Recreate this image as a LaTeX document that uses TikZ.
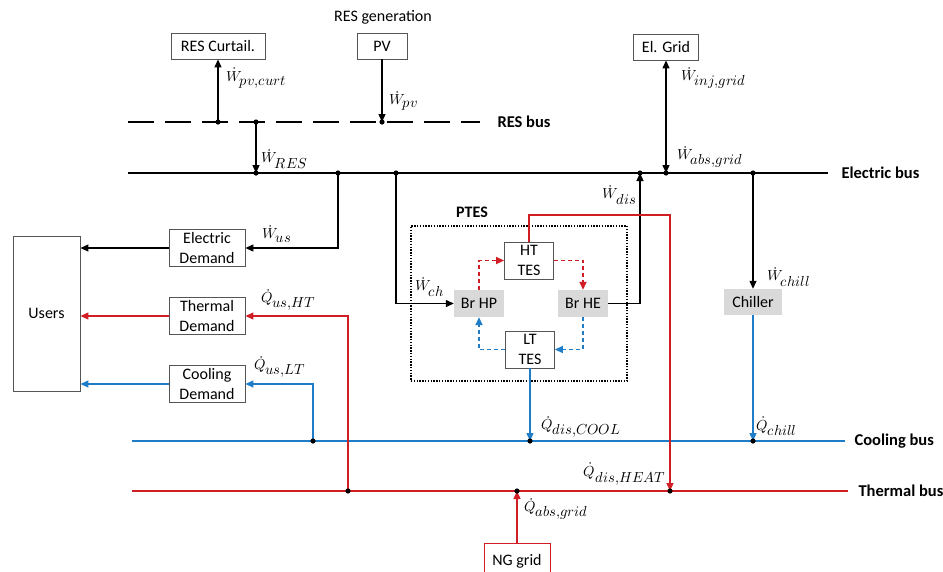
\documentclass[tikz,border=0pt]{standalone}
\usepackage{amsmath}
\usepackage{fontspec}
\usepackage{unicode-math}
\setmainfont{Carlito}
\setmathfont{Latin Modern Math}
\usetikzlibrary{arrows.meta,positioning,calc}
\definecolor{ink}{HTML}{111111}
\definecolor{heat}{HTML}{D01E24}
\definecolor{cool}{HTML}{1F7DC8}
\definecolor{frame}{HTML}{555555}
\definecolor{shade}{HTML}{D9D9D9}
\newcommand{\Wflow}[1]{$\dot{W}_{\textstyle #1}$}
\newcommand{\Qflow}[1]{$\dot{Q}_{\textstyle #1}$}
\tikzset{>={Triangle[length=8pt,width=7pt]},txt/.style={font=\fontsize{16}{20}\selectfont,align=center},box/.style={txt,draw=frame,line width=0.9pt,fill=white,inner sep=0pt},greybox/.style={txt,fill=shade,inner sep=0pt},bus/.style={line width=2.2pt},buslbl/.style={font=\fontsize{16.5}{18}\selectfont\bfseries,anchor=west},flow/.style={font=\fontsize{14.5}{16}\selectfont,inner sep=1pt,anchor=west},con/.style={line width=1.3pt},dsh/.style={line width=1.8pt,dash pattern=on 4pt off 3pt}}
\begin{document}
\begin{tikzpicture}[x=1pt,y=-1pt]
\useasboundingbox (0,0) rectangle (943,571);
% buses
\coordinate (resW) at (128,122);\coordinate (resE) at (480,122);
\coordinate (elW) at (128,173);\coordinate (elE) at (828,173);
\coordinate (coolW) at (132,441);\coordinate (coolE) at (845,441);
\coordinate (thW) at (132,491);\coordinate (thE) at (848,491);
\draw[bus,dash pattern=on 26pt off 11pt] (resW) -- (resE);
\draw[bus] (elW) -- (elE);
\draw[bus,cool] (coolW) -- (coolE);
\draw[bus,heat] (thW) -- (thE);
\node[buslbl] (reslbl) at (494,122) {RES bus};
\node[buslbl] (ellbl) at (838,173) {Electric bus};
\node[buslbl] (coollbl) at (851,441) {Cooling bus};
\node[buslbl] (thlbl) at (855,491) {Thermal bus};
% junctions
\coordinate (jcurt) at (218,122);\coordinate (jpv) at (382,122);\coordinate (jres) at (256,122);
\coordinate (jresel) at (256,173);\coordinate (jus) at (338,173);\coordinate (jch) at (396,173);
\coordinate (jdis) at (640,173);\coordinate (jgrid) at (666,173);\coordinate (jchill) at (753,173);
\coordinate (jltc) at (313,441);\coordinate (jdcool) at (530,441);\coordinate (jchc) at (753,441);
\coordinate (jht) at (348,491);\coordinate (jng) at (517,491);\coordinate (jdheat) at (670,491);
\coordinate (hbend) at (670,215);
% blocks
\node[txt] (gentxt) at (383,17) {RES generation};
\node[box,minimum width=94pt,minimum height=26pt] (curt) at (218,46) {RES Curtail.};
\node[box,minimum width=50pt,minimum height=26pt] (pv) at (382,46) {PV};
\node[box,minimum width=65pt,minimum height=26pt] (elgrid) at (666,47) {El. Grid};
\node[box,minimum width=67pt,minimum height=155pt] (users) at (46.5,313.5) {Users};
\node[box,minimum width=76pt,minimum height=37pt] (eldem) at (207,248) {Electric\\Demand};
\node[box,minimum width=76pt,minimum height=37pt] (thdem) at (207,316) {Thermal\\Demand};
\node[box,minimum width=76pt,minimum height=37pt] (cooldem) at (207,384) {Cooling\\Demand};
\node[draw,line width=1.1pt,dash pattern=on 1.4pt off 1.4pt,minimum width=216pt,minimum height=155pt] (ptes) at (519,303.5) {};
\node[font=\fontsize{16}{18}\selectfont\bfseries] (pteslbl) at (472,212) {PTES};
\node[box,minimum width=49pt,minimum height=37pt] (httes) at (529,260.5) {HT\\TES};
\node[box,minimum width=49pt,minimum height=37pt] (lttes) at (530,349.5) {LT\\TES};
\node[greybox,minimum width=50pt,minimum height=27pt] (brhp) at (479,303.5) {Br HP};
\node[greybox,minimum width=50pt,minimum height=27pt] (brhe) at (583,303.5) {Br HE};
\node[greybox,minimum width=58pt,minimum height=26pt] (chiller) at (753,302) {Chiller};
\node[box,draw=heat,minimum width=66pt,minimum height=36pt] (nggrid) at (517,561) {NG grid};
% electric links
\draw[con,<-] (curt.south) -- (jcurt);
\draw[con,->] (pv.south) -- (jpv);
\draw[con,->] (jres) -- (jresel);
\draw[con,<->] (elgrid.south) -- (jgrid);
\draw[con,->] (jus) |- (eldem.east);
\draw[con,->] (eldem.west) -- (users.east |- eldem.west);
\draw[con,->] (jch) |- (brhp.west);
\draw[con,->] (brhe.east) -| (jdis);
\draw[con,->] (jchill) -- (chiller.north);
% thermal links
\draw[con,heat,->] (jht) |- (thdem.east);
\draw[con,heat,->] (thdem.west) -- (users.east |- thdem.west);
\draw[con,heat,->] (httes.north) |- (hbend) -- (jdheat);
\draw[con,heat,->] (nggrid.north) -- (jng);
\draw[heat,dsh,->] (brhp.north) |- (httes.west);
\draw[heat,dsh,->] (httes.east) -| (brhe.north);
% cooling links
\draw[con,cool,->] (jltc) |- (cooldem.east);
\draw[con,cool,->] (cooldem.west) -- (users.east |- cooldem.west);
\draw[con,cool,->] (lttes.south) -- (jdcool);
\draw[con,cool,->] (chiller.south) -- (jchc);
\draw[cool,dsh,->] (brhe.south) |- (lttes.east);
\draw[cool,dsh,->] (lttes.west) -| (brhp.south);
\foreach \j in {jcurt,jpv,jres,jresel,jus,jch,jdis,jgrid,jchill,jltc,jdcool,jchc,jht,jng,jdheat}
  \fill (\j) circle (2.6);
% flow labels
\node[flow] (lcurt) at (225,78) {\Wflow{pv{,}curt}};
\node[flow] (lpv) at (388,101) {\Wflow{pv}};
\node[flow] (lres) at (260,159) {\Wflow{RES}};
\node[flow] (linj) at (680,78) {\Wflow{inj{,}grid}};
\node[flow] (labs) at (676,157) {\Wflow{abs{,}grid}};
\node[flow,anchor=east] (ldis) at (638,195) {\Wflow{dis}};
\node[flow] (lus) at (261,234) {\Wflow{us}};
\node[flow] (lusht) at (260,300) {\Qflow{us{,}HT}};
\node[flow] (luslt) at (253,367) {\Qflow{us{,}LT}};
\node[flow] (lch) at (414,287) {\Wflow{ch}};
\node[flow] (lchill) at (766,277) {\Wflow{chill}};
\node[flow] (lqchill) at (755,426) {\Qflow{chill}};
\node[flow] (ldcool) at (540,427) {\Qflow{dis{,}COOL}};
\node[flow,anchor=east] (ldheat) at (667,474) {\Qflow{dis{,}HEAT}};
\node[flow] (lng) at (523,509) {\Qflow{abs{,}grid}};
\end{tikzpicture}
\end{document}
